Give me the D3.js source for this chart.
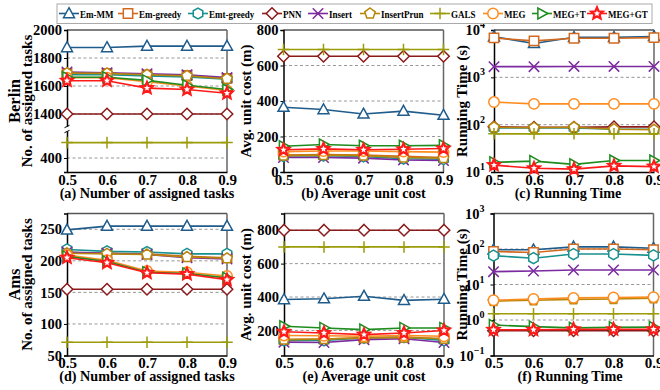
<!DOCTYPE html>
<html><head><meta charset="utf-8">
<script src="https://cdn.jsdelivr.net/npm/d3@7"></script>
<style>
body{margin:0;background:#fff}
svg{display:block}
text{font-family:"Liberation Serif","Times New Roman",serif;font-weight:bold;fill:#000}
</style>
</head><body>
<svg id="chart" width="660" height="390"></svg>
<script>
// ---------------- DATA ----------------
const xValues = [0.5, 0.6, 0.7, 0.8, 0.9];
const xTickLabels = ["0.5", "0.6", "0.7", "0.8", "0.9"];
const seriesNames = ["Em-MM","Em-greedy","Emt-greedy","PNN","Insert","InsertPrun","GALS","MEG","MEG+T","MEG+GT"];

// rows follow seriesNames order
const berlinTasks = [
  [1875,1875,1885,1885,1885],
  [1690,1690,1680,1675,1655],
  [1680,1680,1672,1665,1648],
  [1400,1400,1400,1400,1400],
  [1700,1695,1688,1680,1660],
  [1692,1690,1680,1672,1652],
  [510,510,510,510,510],
  [1660,1660,1630,1600,1568],
  [1662,1662,1640,1605,1575],
  [1638,1638,1585,1575,1548]
];
const berlinCost = [
  [365,352,327,343,320],
  [95,98,95,88,82],
  [90,92,88,75,72],
  [652,652,652,652,652],
  [82,82,78,68,65],
  [92,95,92,82,78],
  [690,690,690,690,690],
  [115,118,118,115,112],
  [145,155,148,148,150],
  [125,130,125,128,132]
];
const berlinTime = [
  [7200,5200,7000,7000,7300],
  [6800,5900,6700,6700,6900],
  [85,85,85,80,80],
  [90,88,88,90,90],
  [1680,1680,1700,1700,1700],
  [88,86,88,80,78],
  [64,64,64,64,64],
  [300,275,275,275,275],
  [16,17,14.5,17.5,17.5],
  [14,12,11.5,13.5,13]
];
const amsTasks = [
  [249,255,255,255,255],
  [213,212,211,207,205],
  [218,215,214,211,211],
  [155,155,155,155,155],
  [214,212,210,205,203],
  [212,211,210,206,204],
  [71,71,71,71,71],
  [209,201,184,182,176],
  [207,199,182,180,173],
  [205,197,181,179,170]
];
const amsCost = [
  [385,390,405,380,387],
  [145,148,158,160,150],
  [140,140,155,160,140],
  [800,800,800,800,800],
  [130,128,145,150,128],
  [145,148,155,158,150],
  [700,700,700,700,700],
  [170,168,165,170,165],
  [225,215,205,215,215],
  [192,185,175,185,200]
];
const amsTime = [
  [95,95,115,115,105],
  [85,80,100,100,95],
  [65,55,72,72,66],
  [0.5,0.5,0.5,0.5,0.5],
  [23,24,25.5,25.5,25.5],
  [3.4,3.6,3.8,3.9,4.1],
  [1.5,1.5,1.5,1.5,1.5],
  [3.6,3.9,4.2,4.3,4.4],
  [0.72,0.65,0.6,0.62,0.63],
  [0.53,0.53,0.55,0.55,0.55]
];

const tasksTicksBerlin = [400,1400,1600,1800,2000];
const costTicksBerlin = [0,200,400,600,800];
const timeTicksBerlin = [10,100,1000,10000];
const tasksTicksAms = [50,100,150,200,250];
const costTicksAms = [200,400,600,800];
const timeTicksAms = [0.1,1,10,100,1000];

// ---------------- STYLE ----------------
const colors = ["#1f5c8b","#d2691e","#17918f","#8b1a1a","#7b2a9f","#b8860b","#9c9c0a","#ff8c1f","#1e8c1e","#ff1a1a"];
const markers = ["triUp","square","hexagon","diamond","x","pentagon","plus","circle","triRight","star"];

function markerPath(type, r) {
  const p = d3.path();
  const poly = pts => { p.moveTo(pts[0][0], pts[0][1]); pts.slice(1).forEach(q => p.lineTo(q[0], q[1])); p.closePath(); };
  const reg = (n, rad, rot) => d3.range(n).map(i => { const a = rot + i * 2 * Math.PI / n; return [rad * Math.cos(a), rad * Math.sin(a)]; });
  switch (type) {
    case "triUp": poly([[0,-r*1.05],[r*1.0,r*0.75],[-r*1.0,r*0.75]]); break;
    case "triRight": poly([[r*1.05,0],[-r*0.75,-r*1.0],[-r*0.75,r*1.0]]); break;
    case "square": poly([[-r*0.85,-r*0.85],[r*0.85,-r*0.85],[r*0.85,r*0.85],[-r*0.85,r*0.85]]); break;
    case "hexagon": poly(reg(6, r, Math.PI/6)); break;
    case "pentagon": poly(reg(5, r, -Math.PI/2)); break;
    case "diamond": poly([[0,-r*1.05],[r*1.05,0],[0,r*1.05],[-r*1.05,0]]); break;
    case "circle": p.arc(0,0,r*0.95,0,2*Math.PI); break;
    case "x": { const s = r*0.95; p.moveTo(-s,-s); p.lineTo(s,s); p.moveTo(-s,s); p.lineTo(s,-s); break; }
    case "plus": { const s = r*1.05; p.moveTo(-s,0); p.lineTo(s,0); p.moveTo(0,-s); p.lineTo(0,s); break; }
    case "star": {
      const pts = [];
      for (let i = 0; i < 10; i++) { const rad = i % 2 ? r*0.5 : r*1.1; const a = -Math.PI/2 + i*Math.PI/5; pts.push([rad*Math.cos(a), rad*Math.sin(a)]); }
      poly(pts); break;
    }
  }
  return p.toString();
}

const svg = d3.select("#chart");
const W = 160;
const font = '"Liberation Serif","Times New Roman",serif';

const panels = [
  {data: berlinTasks, left: 67,    top: 30,    bottom: 172, kind: "break", ticks: tasksTicksBerlin, title: "(a) Number of assigned tasks", ylab: "No. of assigned tasks", ylabX: 31.5, row: "Berlin"},
  {data: berlinCost,  left: 283.5, top: 30,    bottom: 172, kind: "lin", domain: [0,800], ticks: costTicksBerlin, title: "(b) Average unit cost", ylab: "Avg. unit cost (m)", ylabX: 250.5},
  {data: berlinTime,  left: 494,   top: 30,    bottom: 172, kind: "log", domain: [10,10000], ticks: timeTicksBerlin, title: "(c) Running Time", ylab: "Running Time (s)", ylabX: 466.5, titleX: 568},
  {data: amsTasks,    left: 67,    top: 213.5, bottom: 355.5, kind: "lin", domain: [50,275], ticks: tasksTicksAms, title: "(d) Number of assigned tasks", ylab: "No. of assigned tasks", ylabX: 31.5, row: "Ams"},
  {data: amsCost,     left: 284,   top: 213.5, bottom: 355.5, kind: "lin", domain: [50,900], ticks: costTicksAms, title: "(e) Average unit cost", ylab: "Avg. unit cost (m)", ylabX: 250.5},
  {data: amsTime,     left: 493.5, top: 213.5, bottom: 355.5, kind: "log", domain: [0.1,1000], ticks: timeTicksAms, title: "(f) Running Time", ylab: "Running Time (s)", ylabX: 466.5, titleX: 570}
];

panels.forEach(pn => {
  const g = svg.append("g");
  const x = d3.scaleLinear().domain([0.5, 0.9]).range([pn.left, pn.left + W]);
  let y;
  if (pn.kind === "break") y = d3.scaleLinear().domain([300, 600, 1300, 2000]).range([pn.bottom, 130, 128, pn.top]);
  else if (pn.kind === "log") y = d3.scaleLog().domain(pn.domain).range([pn.bottom, pn.top]);
  else y = d3.scaleLinear().domain(pn.domain).range([pn.bottom, pn.top]);

  // grid
  pn.ticks.forEach(t => {
    const yy = y(t);
    if (yy > pn.top + 1 && yy < pn.bottom - 1) {
      g.append("line").attr("x1", pn.left).attr("x2", pn.left + W).attr("y1", yy).attr("y2", yy)
        .attr("stroke", "#8c8c8c").attr("stroke-width", 0.9).attr("stroke-dasharray", "3,2.5");
    }
  });

  // frame: top/right gray, left/bottom black
  g.append("line").attr("x1", pn.left).attr("x2", pn.left + W).attr("y1", pn.top).attr("y2", pn.top).attr("stroke", "#555").attr("stroke-width", 1.5);
  g.append("line").attr("x1", pn.left + W).attr("x2", pn.left + W).attr("y1", pn.top).attr("y2", pn.bottom).attr("stroke", "#666").attr("stroke-width", 1.5);

  // y axis
  const yAxis = d3.axisLeft(y).tickValues(pn.ticks).tickSize(3).tickPadding(2)
    .tickFormat(d => pn.kind === "log" ? "" : d3.format("d")(d));
  const ya = g.append("g").attr("transform", `translate(${pn.left},0)`).call(yAxis);
  ya.select(".domain").attr("stroke", "#000").attr("stroke-width", 1.5);
  ya.selectAll(".tick line").attr("stroke", "#000");
  ya.selectAll(".tick text").attr("font-family", font).attr("font-weight", "bold").attr("font-size", 14.5).attr("fill", "#000");
  if (pn.kind === "log") {
    pn.ticks.forEach(t => {
      const e = Math.round(Math.log10(t));
      const tx = g.append("text").attr("x", pn.left - 9).attr("y", y(t) + 5).attr("text-anchor", "end")
        .attr("font-size", 14.5);
      tx.append("tspan").text("10");
      tx.append("tspan").attr("dy", -7).attr("font-size", 10).text(e < 0 ? "\u2212" + (-e) : String(e));
    });
  }

  // x axis
  const xAxis = d3.axisBottom(x).tickValues(xValues).tickSize(0).tickPadding(2)
    .tickFormat((d, i) => xTickLabels[i]);
  const xa = g.append("g").attr("transform", `translate(0,${pn.bottom})`).call(xAxis);
  xa.select(".domain").attr("stroke", "#000").attr("stroke-width", 1.5);
  xa.selectAll(".tick text").attr("font-family", font).attr("font-weight", "bold").attr("font-size", 15).attr("fill", "#000");

  // axis break marks
  if (pn.kind === "break") {
    g.append("rect").attr("x", pn.left - 3).attr("y", 126.5).attr("width", 6).attr("height", 5).attr("fill", "#fff");
    [126.5, 131.5].forEach(yy => g.append("line").attr("x1", pn.left - 2.5).attr("x2", pn.left + 2.5)
      .attr("y1", yy + 1.2).attr("y2", yy - 1.2).attr("stroke", "#000").attr("stroke-width", 1));
  }

  // labels
  g.append("text").attr("x", pn.titleX || (pn.left + W / 2)).attr("y", pn.bottom + 25.5)
    .attr("text-anchor", "middle").attr("font-size", 14.2).text(pn.title);
  const cy = (pn.top + pn.bottom) / 2;
  g.append("text").attr("transform", `translate(${pn.ylabX},${cy}) rotate(-90)`)
    .attr("text-anchor", "middle").attr("font-size", 15).text(pn.ylab);
  if (pn.row) {
    g.append("text").attr("transform", `translate(19.5,${cy}) rotate(-90)`)
      .attr("text-anchor", "middle").attr("font-size", 16.5).text(pn.row);
  }

  // series
  const line = d3.line().x((d, i) => x(xValues[i])).y(d => y(d));
  pn.data.forEach((vals, si) => {
    const sg = g.append("g");
    sg.append("path").attr("d", line(vals)).attr("fill", "none").attr("stroke", colors[si]).attr("stroke-width", 1.6);
    const open = markers[si] !== "x" && markers[si] !== "plus";
    sg.selectAll("path.m").data(vals).join("path").attr("class", "m")
      .attr("transform", (d, i) => `translate(${x(xValues[i])},${y(d)})`)
      .attr("d", markerPath(markers[si], 5.5))
      .attr("fill", open ? "#fff" : "none")
      .attr("stroke", colors[si])
      .attr("stroke-width", markers[si] === "star" ? 2.2 : 1.5);
  });
});

// legend
const legendStart = [59, 118, 188, 262, 308, 360, 430, 483, 532, 587];
const lg = svg.append("g");
lg.append("rect").attr("x", 57).attr("y", 4).attr("width", 595).attr("height", 19.5)
  .attr("fill", "#fff").attr("stroke", "#aaa").attr("stroke-width", 1);
seriesNames.forEach((nm, i) => {
  const x0 = legendStart[i], yy = 13.5;
  lg.append("line").attr("x1", x0).attr("x2", x0 + 20).attr("y1", yy).attr("y2", yy).attr("stroke", colors[i]).attr("stroke-width", 1.6);
  const open = markers[i] !== "x" && markers[i] !== "plus";
  lg.append("path").attr("transform", `translate(${x0 + 10},${yy})`).attr("d", markerPath(markers[i], 5.5))
    .attr("fill", open ? "#fff" : "none").attr("stroke", colors[i]).attr("stroke-width", markers[i] === "star" ? 2.2 : 1.5);
  lg.append("text").attr("transform", `translate(${x0 + 21},${yy + 4}) scale(0.82,1)`)
    .attr("font-size", 11).text(nm);
});
</script>
</body></html>
